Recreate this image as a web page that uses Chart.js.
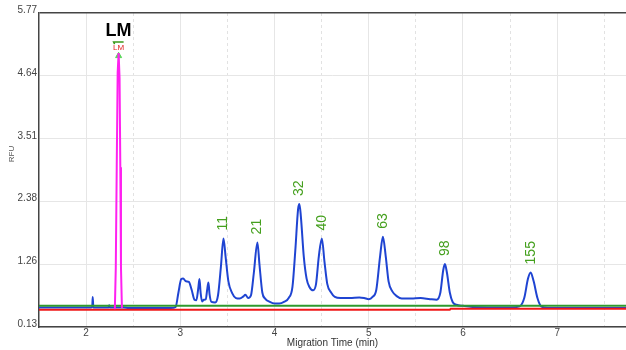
<!DOCTYPE html>
<html>
<head>
<meta charset="utf-8">
<script src="https://cdn.jsdelivr.net/npm/chart.js@4.4.1/dist/chart.umd.min.js"></script>
<style>
  html, body { margin: 0; padding: 0; background: #fff; }
  #wrap { width: 626px; height: 350px; }
</style>
</head>
<body>
<div id="wrap"><canvas id="chart"></canvas></div>
<script>
// --- axis ticks ---
const yTicks = [0.13, 1.26, 2.38, 3.51, 4.64, 5.77];
const xTicks = [2, 2.5, 3, 3.5, 4, 4.5, 5, 5.5, 6, 6.5, 7, 7.5];

// --- sample trace (blue): [time, RFU] ---
const sampleTrace = [
  [1.50, 0.48], [2.05, 0.48], [2.065, 0.49], [2.07, 0.67], [2.077, 0.48],
  [2.24, 0.48], [2.245, 0.52], [2.25, 0.48], [2.30, 0.48],
  [2.40, 0.48], [2.45, 0.47], [2.90, 0.47], [2.95, 0.49],
  [2.98, 0.75], [3.01, 0.99], [3.03, 1.00], [3.06, 0.95], [3.09, 0.94],
  [3.12, 0.80], [3.15, 0.62], [3.17, 0.61], [3.19, 0.82], [3.203, 0.99],
  [3.215, 0.75], [3.23, 0.59], [3.25, 0.62], [3.27, 0.63], [3.285, 0.80],
  [3.298, 0.93], [3.31, 0.72], [3.33, 0.58], [3.37, 0.57], [3.40, 0.70],
  [3.43, 1.20], [3.458, 1.72], [3.48, 1.40], [3.51, 0.95], [3.55, 0.74],
  [3.59, 0.65], [3.63, 0.64], [3.67, 0.68], [3.69, 0.71], [3.72, 0.65],
  [3.75, 0.70], [3.78, 1.10], [3.818, 1.65], [3.84, 1.25], [3.87, 0.75],
  [3.90, 0.64], [3.95, 0.58], [4.00, 0.55], [4.05, 0.55], [4.10, 0.58],
  [4.15, 0.65], [4.19, 0.85], [4.22, 1.50], [4.25, 2.25], [4.264, 2.34],
  [4.28, 2.10], [4.31, 1.40], [4.34, 1.00], [4.37, 0.85], [4.41, 0.79],
  [4.44, 0.90], [4.47, 1.40], [4.502, 1.72], [4.53, 1.30], [4.56, 0.90],
  [4.60, 0.75], [4.64, 0.67], [4.70, 0.65], [4.80, 0.65], [4.90, 0.66],
  [4.95, 0.65], [5.00, 0.63], [5.04, 0.67], [5.08, 0.80], [5.12, 1.40],
  [5.15, 1.75], [5.18, 1.40], [5.21, 0.95], [5.25, 0.77], [5.30, 0.68],
  [5.35, 0.64], [5.45, 0.64], [5.55, 0.65], [5.65, 0.63], [5.72, 0.62],
  [5.76, 0.75], [5.79, 1.15], [5.808, 1.26], [5.83, 1.10], [5.86, 0.75],
  [5.89, 0.58], [5.93, 0.53], [6.00, 0.51], [6.10, 0.49], [6.50, 0.48],
  [6.60, 0.50], [6.65, 0.65], [6.69, 1.00], [6.718, 1.11], [6.75, 0.95],
  [6.79, 0.65], [6.83, 0.50], [6.90, 0.47], [7.73, 0.47]
];

// --- lower marker trace (magenta) ---
const markerTrace = [
  [2.305, 0.45], [2.315, 1.2], [2.325, 3.0], [2.335, 4.7], [2.345, 5.05],
  [2.355, 4.6], [2.363, 3.0], [2.37, 1.2], [2.38, 0.47]
];

// --- thresholds ---
const greenLine = [[1.50, 0.51], [7.73, 0.51]];
const redLine = [[1.50, 0.44], [5.86, 0.44], [5.87, 0.46], [7.73, 0.46]];

// --- peak size calls ---
const peakNames = ['11', '21', '32', '40', '63', '98', '155'];
const peakTimes = [3.458, 3.818, 4.264, 4.502, 5.15, 5.808, 6.718];
const peakHeights = [1.72, 1.65, 2.34, 1.72, 1.75, 1.26, 1.11];

const lmTime = 2.345;
const lmHeight = 5.05;

const toXY = arr => arr.map(p => ({ x: p[0], y: p[1] }));

const peakLabels = {
  id: 'peakLabels',
  afterDatasetsDraw(chart) {
    const { ctx, scales: { x, y } } = chart;
    ctx.save();
    ctx.fillStyle = '#45a01e';
    ctx.font = '14px "Liberation Sans", Arial, sans-serif';
    ctx.textAlign = 'left';
    ctx.textBaseline = 'middle';
    peakNames.forEach((name, i) => {
      const px = x.getPixelForValue(peakTimes[i]);
      const py = y.getPixelForValue(peakHeights[i]);
      ctx.save();
      ctx.translate(px, py - 8);
      ctx.rotate(-Math.PI / 2);
      ctx.fillText(name, 0, 0);
      ctx.restore();
    });

    // LM marker labels
    const lx = x.getPixelForValue(lmTime);
    const ly = y.getPixelForValue(lmHeight);
    ctx.textAlign = 'center';
    ctx.fillStyle = '#e02020';
    ctx.font = '8px "Liberation Sans", Arial, sans-serif';
    ctx.fillText('LM', lx, ly - 5);
    ctx.strokeStyle = '#3a9a1a';
    ctx.lineWidth = 1.5;
    ctx.beginPath();
    ctx.moveTo(lx - 4, ly - 9);
    ctx.lineTo(lx - 5, ly - 11);
    ctx.lineTo(lx + 5, ly - 11);
    ctx.stroke();
    ctx.fillStyle = '#000';
    ctx.font = 'bold 18px "Liberation Sans", Arial, sans-serif';
    ctx.fillText('LM', lx, ly - 22);

    // y title
    ctx.save();
    ctx.translate(11.5, 154);
    ctx.rotate(-Math.PI / 2);
    ctx.fillStyle = '#555';
    ctx.font = '8px "Liberation Sans", Arial, sans-serif';
    ctx.fillText('RFU', 0, 0);
    ctx.restore();
    ctx.restore();
  }
};

new Chart(document.getElementById('chart'), {
  type: 'line',
  data: {
    datasets: [
      {
        label: 'LM',
        data: toXY(markerTrace),
        borderColor: '#ff20f0',
        borderWidth: 2,
        pointRadius: 0,
        tension: 0,
        order: 0
      },
      {
        label: 'LM peak',
        data: [{ x: lmTime, y: lmHeight - 0.05 }],
        showLine: false,
        pointStyle: 'triangle',
        pointRadius: 3.5,
        backgroundColor: '#5ad65a',
        borderColor: '#5ad65a',
        order: 0
      },
      {
        label: 'Red',
        data: toXY(redLine),
        borderColor: '#f01818',
        borderWidth: 2,
        pointRadius: 0,
        tension: 0,
        order: 1
      },
      {
        label: 'Green',
        data: toXY(greenLine),
        borderColor: '#2e9a2e',
        borderWidth: 2,
        pointRadius: 0,
        tension: 0,
        order: 2
      },
      {
        label: 'Sample',
        data: toXY(sampleTrace),
        borderColor: '#1f44d2',
        borderWidth: 2,
        pointRadius: 0,
        cubicInterpolationMode: 'monotone',
        order: 3
      }
    ]
  },
  options: {
    responsive: true,
    maintainAspectRatio: false,
    animation: false,
    layout: { autoPadding: false, padding: { top: 13, right: 0, left: 0, bottom: 0 } },
    plugins: {
      legend: { display: false },
      tooltip: { enabled: false }
    },
    scales: {
      x: {
        type: 'linear',
        min: 1.5,
        max: 7.73,
        afterBuildTicks: s => { s.ticks = xTicks.map(v => ({ value: v })); },
        afterFit: s => { s.height = 23; },
        ticks: {
          color: '#444',
          padding: 0,
          autoSkip: false,
          maxRotation: 0,
          font: { family: '"Liberation Sans", Arial, sans-serif', size: 10 },
          callback: v => Number.isInteger(v) ? String(v) : ''
        },
        grid: {
          drawTicks: false,
          color: ctx => (ctx.tick && Number.isInteger(ctx.tick.value)) ? '#e6e6e6' : '#e2e2e2'
        },
        border: {
          color: '#444',
          width: 1.5,
          dash: ctx => (ctx.tick && !Number.isInteger(ctx.tick.value)) ? [3, 3] : []
        },
        title: {
          display: true,
          text: 'Migration Time (min)',
          color: '#333',
          padding: { top: 0, bottom: 1 },
          font: { family: '"Liberation Sans", Arial, sans-serif', size: 10 }
        }
      },
      y: {
        min: 0.13,
        max: 5.77,
        afterBuildTicks: s => { s.ticks = yTicks.map(v => ({ value: v })); },
        afterFit: s => { s.width = 39; },
        ticks: {
          color: '#444',
          padding: 2,
          labelOffset: -3,
          font: { family: '"Liberation Sans", Arial, sans-serif', size: 10 },
          callback: v => v.toFixed(2)
        },
        grid: {
          drawTicks: false,
          color: ctx => (ctx.tick && ctx.tick.value === 5.77) ? '#444' : '#e6e6e6',
          lineWidth: ctx => (ctx.tick && ctx.tick.value === 5.77) ? 1.5 : 1
        },
        border: { color: '#444', width: 1.5 }
      }
    }
  },
  plugins: [peakLabels]
});
</script>
</body>
</html>
